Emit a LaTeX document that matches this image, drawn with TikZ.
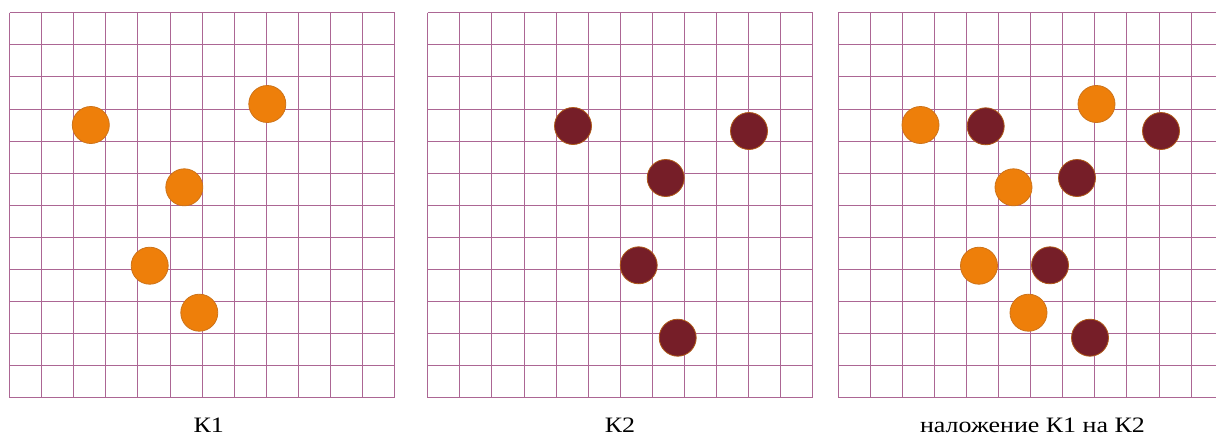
\documentclass[tikz,border=0pt]{standalone}
\usepackage{fontspec}
\setmainfont{Liberation Serif}
\definecolor{gridc}{RGB}{172,102,148}
\definecolor{orangefill}{RGB}{238,127,10}
\definecolor{orangeline}{RGB}{205,115,25}
\definecolor{darkfill}{RGB}{118,30,40}
\definecolor{darkline}{RGB}{175,90,25}
\tikzset{
  gridline/.style={draw=gridc, line width=1.0pt},
  orangedot/.style={circle, fill=orangefill, draw=orangeline, line width=0.8pt, minimum size=37pt, inner sep=0pt},
  darkdot/.style={circle, fill=darkfill, draw=darkline, line width=0.8pt, minimum size=37pt, inner sep=0pt},
  caption/.style={font=\fontsize{22}{26}\selectfont, anchor=base, inner sep=0pt, xscale=1.18},
}
\begin{document}
\begin{tikzpicture}[x=1pt,y=-1pt]
\useasboundingbox (0,0) rectangle (1216,437);
\clip (0,0) rectangle (1216,437);
\fill[white] (0,0) rectangle (1216,437);
% grids
\foreach \gx in {9.5,427.7,838} {
  \foreach \i in {0,...,12} {
    \draw[gridline] ({\gx+\i*32.1},12.7) -- ({\gx+\i*32.1},397.9);
    \draw[gridline] (\gx,{12.7+\i*32.1}) -- ({\gx+385.2},{12.7+\i*32.1});
  }
}
% K1
\node[orangedot] (a1) at (90.8,125) {};
\node[orangedot] (b1) at (267.3,104) {};
\node[orangedot] (c1) at (184.3,187.3) {};
\node[orangedot] (d1) at (149.7,265.7) {};
\node[orangedot] (e1) at (199.3,312.7) {};
% K2
\node[darkdot] (f2) at (573,126) {};
\node[darkdot] (g2) at (749,131) {};
\node[darkdot] (h2) at (665.7,178) {};
\node[darkdot] (i2) at (638.7,265.3) {};
\node[darkdot] (j2) at (677.7,337.7) {};
% overlay
\node[orangedot] (a3) at (920.5,125) {};
\node[orangedot] (b3) at (1096.5,104) {};
\node[orangedot] (c3) at (1013.5,187.3) {};
\node[orangedot] (d3) at (979,265.7) {};
\node[orangedot] (e3) at (1028.5,312.7) {};
\node[darkdot] (f3) at (985.7,126.3) {};
\node[darkdot] (g3) at (1161,131) {};
\node[darkdot] (h3) at (1077,178) {};
\node[darkdot] (i3) at (1050,265.3) {};
\node[darkdot] (j3) at (1090,337.7) {};
% captions
\node[caption] (t1) at (208.7,432.5) {К1};
\node[caption] (t2) at (620,432.5) {К2};
\node[caption] (t3) at (1032.5,432.5) {наложение К1 на К2};
\end{tikzpicture}
\end{document}
